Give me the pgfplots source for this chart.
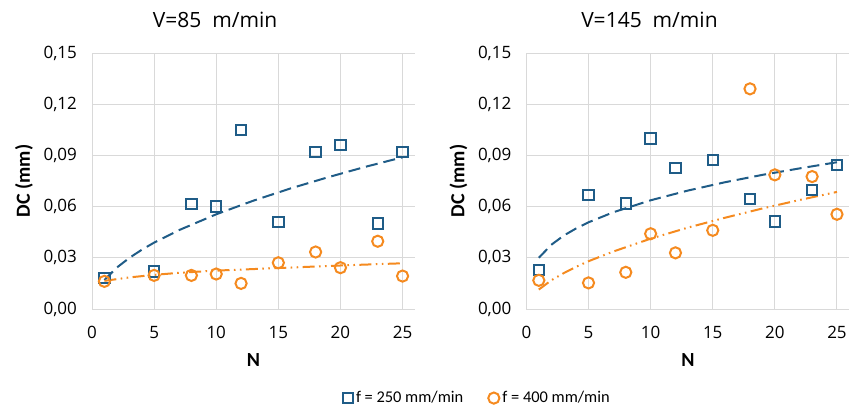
\documentclass[border=0pt]{standalone}
\usepackage{pgfplots}
\pgfplotsset{compat=1.18}
\usepackage{fontspec}
\setmainfont{Carlito}
\newfontfamily\osans{Open Sans}
\definecolor{sqblue}{HTML}{1F5C87}
\definecolor{corange}{HTML}{F58A1F}
\definecolor{gridgray}{HTML}{D9D9D9}

\pgfplotsset{
  dcaxis/.style={
    scale only axis, width=161.5pt, height=128pt,
    xmin=0, xmax=26, ymin=0, ymax=0.15,
    xtick={0,5,...,25}, ytick={0,0.03,0.06,0.09,0.12,0.15},
    grid=major, major grid style={gridgray, line width=0.5pt},
    axis line style={draw=none}, tick style={draw=none},
    /pgf/number format/assume math mode=true,
    yticklabel style={/pgf/number format/fixed, /pgf/number format/fixed zerofill,
      /pgf/number format/precision=2, /pgf/number format/use comma, xshift=-4pt},
    ticklabel style={font=\osans\fontsize{8.5}{10}\selectfont},
    xticklabel style={yshift=-5pt},
    xlabel={N}, ylabel={DC (mm)},
    label style={font=\fontsize{10}{11}\selectfont\bfseries},
    xlabel style={at={(axis description cs:0.5,0)}, anchor=center, yshift=-25.5pt},
    ylabel style={at={(axis description cs:0,0.5)}, anchor=center, yshift=34pt},
    title style={at={(axis description cs:0.381,1)}, anchor=center, yshift=10.5pt,
      font=\osans\fontsize{10.5}{12}\selectfont},
  },
  trendb/.style={sqblue, line width=1pt, dash pattern=on 6pt off 3pt, forget plot},
  trendo/.style={corange, line width=1pt, dash pattern=on 6pt off 2.2pt on 0.8pt off 2.2pt on 0.8pt off 2.2pt, forget plot},
  sqmark/.style={only marks, mark=square, mark size=2.6pt, mark options={sqblue, line width=1pt}},
  cimark/.style={only marks, mark=o, mark size=2.8pt, mark options={corange, line width=1pt}},
}

\begin{document}
\begin{tikzpicture}
\useasboundingbox (0,0) rectangle (429pt,204.5pt);

\begin{axis}[dcaxis, at={(46pt,50pt)}, anchor=south west,
  title={V=85\ \ m/min},
  legend style={at={(axis description cs:1.194,-0.348)}, anchor=center, draw=none, fill=none,
    legend columns=2, font=\fontsize{8.2}{9}\selectfont,
    /tikz/every even column/.append style={column sep=11pt},
    nodes={inner xsep=1.5pt}},
  legend image code/.code={\draw[mark repeat=2,mark phase=2] plot coordinates {(0cm,0cm) (0.18cm,0cm) (0.36cm,0cm)};},
  legend cell align=left]
\addplot[trendb] coordinates {(1,0.0170) (2,0.0243) (3,0.0299) (4,0.0347) (5,0.0389) (7,0.0462) (10,0.0555) (13,0.0635) (16,0.0707) (19,0.0772) (22,0.0833) (25,0.0889)};
\addplot[trendo] coordinates {(1,0.0165) (3,0.0185) (5,0.0200) (7,0.0212) (10,0.0225) (15,0.0240) (20,0.0255) (25,0.0268)};
\addplot[sqmark] coordinates {(1,0.018) (5,0.022) (8,0.0615) (10,0.060) (12,0.105) (15,0.051) (18,0.092) (20,0.096) (23,0.050) (25,0.092)};
\addlegendentry{f = 250 mm/min}
\addplot[cimark] coordinates {(1,0.0162) (5,0.0197) (8,0.0197) (10,0.0205) (12,0.015) (15,0.0271) (18,0.0334) (20,0.0242) (23,0.0397) (25,0.0193)};
\addlegendentry{f = 400 mm/min}
\end{axis}

\begin{axis}[dcaxis, at={(263.2pt,50pt)}, anchor=south west,
  title={V=145\ \ m/min}]
\addplot[trendb] coordinates {(1,0.0300) (2,0.0376) (3,0.0430) (4,0.0472) (5,0.0508) (7,0.0567) (10,0.0637) (13,0.0694) (16,0.0743) (19,0.0786) (22,0.0824) (25,0.0860)};
\addplot[trendo] coordinates {(1,0.0114) (2,0.0168) (3,0.0210) (4,0.0247) (5,0.0280) (7,0.0337) (10,0.0412) (13,0.0477) (16,0.0535) (19,0.0589) (22,0.0639) (25,0.0686)};
\addplot[sqmark] coordinates {(1,0.0227) (5,0.0667) (8,0.0619) (10,0.100) (12,0.0827) (15,0.0872) (18,0.0643) (20,0.0512) (23,0.0696) (25,0.0845)};
\addplot[cimark] coordinates {(1,0.0168) (5,0.0153) (8,0.0215) (10,0.0441) (12,0.0329) (15,0.0461) (18,0.129) (20,0.0786) (23,0.0776) (25,0.0555)};
\end{axis}
\end{tikzpicture}
\end{document}
